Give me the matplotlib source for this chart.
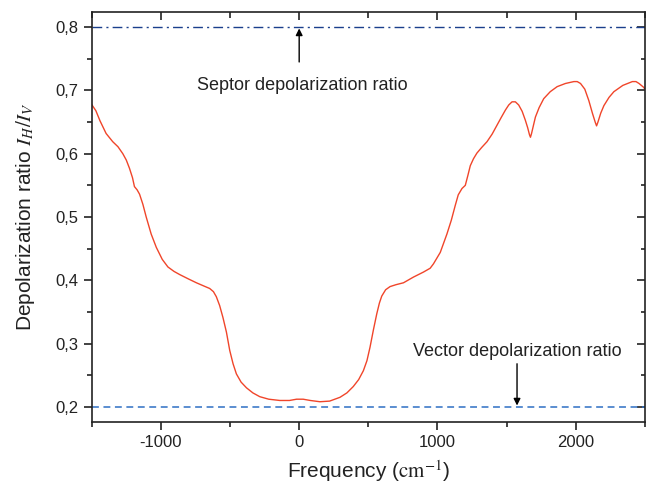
import matplotlib
matplotlib.use("Agg")
import matplotlib.pyplot as plt
from matplotlib.ticker import MultipleLocator, FuncFormatter

plt.rcParams['font.family'] = ['Liberation Sans', 'DejaVu Sans']
plt.rcParams['mathtext.fontset'] = 'stix'

# Curve (frequency in cm^-1, depolarization ratio)
freq = [-1504, -1470, -1440, -1396, -1348, -1310, -1275, -1250, -1227, -1205,
        -1191, -1172, -1154, -1130, -1106, -1070, -1033, -990, -949, -905,
        -864, -800, -743, -690, -647, -620, -599, -575, -551, -526,
        -502, -478, -454, -420, -381, -335, -285, -220, -140, -70,
        -19, 29, 80, 150, 220, 295, 345, 391, 430, 464,
        490, 512, 537, 561, 580, 597, 625, 657, 700, 754,
        826, 899, 947, 971, 1020, 1068, 1100, 1128, 1150, 1177,
        1201, 1220, 1237, 1260, 1285, 1320, 1358, 1395, 1430, 1460,
        1491, 1515, 1539, 1563, 1587, 1612, 1635, 1652, 1665, 1672,
        1680, 1695, 1708, 1735, 1768, 1815, 1865, 1925, 1986, 2010,
        2034, 2065, 2094, 2120, 2140, 2150, 2160, 2180, 2203, 2240,
        2275, 2340, 2409, 2435, 2457, 2490, 2517]
ratio = [0.679, 0.668, 0.652, 0.632, 0.619, 0.611, 0.600, 0.590, 0.577, 0.562,
         0.548, 0.543, 0.536, 0.520, 0.500, 0.473, 0.452, 0.433, 0.421, 0.414,
         0.409, 0.402, 0.396, 0.391, 0.387, 0.382, 0.374, 0.360, 0.341, 0.318,
         0.289, 0.268, 0.252, 0.239, 0.230, 0.222, 0.216, 0.212, 0.210, 0.210,
         0.212, 0.212, 0.210, 0.208, 0.209, 0.215, 0.222, 0.232, 0.243, 0.257,
         0.273, 0.294, 0.322, 0.347, 0.364, 0.375, 0.385, 0.390, 0.393, 0.396,
         0.405, 0.413, 0.419, 0.426, 0.444, 0.473, 0.495, 0.518, 0.535, 0.545,
         0.550, 0.566, 0.581, 0.592, 0.601, 0.610, 0.619, 0.631, 0.645, 0.657,
         0.669, 0.677, 0.682, 0.682, 0.677, 0.667, 0.653, 0.641, 0.630, 0.626,
         0.632, 0.646, 0.658, 0.673, 0.687, 0.698, 0.706, 0.711, 0.714, 0.714,
         0.711, 0.702, 0.684, 0.664, 0.650, 0.644, 0.650, 0.664, 0.676, 0.689,
         0.698, 0.708, 0.714, 0.714, 0.711, 0.705, 0.697]

septor_value = 0.8
vector_value = 0.2
septor_label = "Septor depolarization ratio"
vector_label = "Vector depolarization ratio"
septor_arrow_x = 0
vector_arrow_x = 1575
x_ticks = [-1000, 0, 1000, 2000]
y_ticks = [0.2, 0.3, 0.4, 0.5, 0.6, 0.7, 0.8]

fig = plt.figure(figsize=(6.49, 4.87), dpi=100)
ax = fig.add_axes([0.1413, 0.1335, 0.8525, 0.8419])

ax.plot(freq, ratio, color='#f0452a', lw=1.0)
ax.axhline(septor_value, color='#1a3f8c', lw=1.0, ls=(0, (7, 3, 1.5, 3)))
ax.axhline(vector_value, color='#2e6fc4', lw=1.1, ls=(0, (4.5, 3)))

ax.set_xlim(-1500, 2500)
ax.set_ylim(0.176, 0.824)

ax.annotate('', xy=(septor_arrow_x, septor_value - 0.002),
            xytext=(septor_arrow_x, 0.745),
            arrowprops=dict(arrowstyle='-|>', color='black', lw=1.0,
                            mutation_scale=10, shrinkA=0, shrinkB=0))
ax.text(septor_arrow_x + 25, 0.708, septor_label, ha='center', va='center',
        fontsize=13, color='#222222')
ax.annotate('', xy=(vector_arrow_x, vector_value + 0.002),
            xytext=(vector_arrow_x, 0.268),
            arrowprops=dict(arrowstyle='-|>', color='black', lw=1.0,
                            mutation_scale=10, shrinkA=0, shrinkB=0))
ax.text(vector_arrow_x, 0.287, vector_label, ha='center', va='center',
        fontsize=13, color='#222222')

ax.set_xticks(x_ticks)
ax.set_xticklabels([str(v) for v in x_ticks])
ax.set_yticks(y_ticks)
ax.yaxis.set_major_formatter(FuncFormatter(lambda v, p: f"{v:.1f}".replace('.', ',')))
ax.xaxis.set_minor_locator(MultipleLocator(500))
ax.yaxis.set_minor_locator(MultipleLocator(0.05))

for s in ax.spines.values():
    s.set_linewidth(1.2)
    s.set_color('#222222')

ax.tick_params(which='both', direction='out', top=False, right=False,
               colors='#222222', width=1.2, labelsize=12)
ax.tick_params(which='major', length=6)
ax.tick_params(which='minor', length=3.5)

# mirrored inward ticks on top/right
axt = ax.secondary_xaxis('top')
axt.set_xticks(x_ticks)
axt.xaxis.set_minor_locator(MultipleLocator(500))
axt.tick_params(which='both', direction='in', labeltop=False, width=1.2, colors='#222222')
axt.tick_params(which='major', length=6)
axt.tick_params(which='minor', length=4)
axr = ax.secondary_yaxis('right')
axr.set_yticks(y_ticks)
axr.yaxis.set_minor_locator(MultipleLocator(0.05))
axr.tick_params(which='both', direction='in', labelright=False, width=1.2, colors='#222222')
axr.tick_params(which='major', length=6)
axr.tick_params(which='minor', length=3)
for sa in (axt, axr):
    for s in sa.spines.values():
        s.set_visible(False)

ax.set_xlabel(r"Frequency ($\mathrm{cm}^{-1}$)", fontsize=15, color='#222222', labelpad=6)
ax.set_ylabel(r"Depolarization ratio $I_H/I_V$", fontsize=15, color='#222222', labelpad=13)

fig.savefig("out.png", dpi=100)
